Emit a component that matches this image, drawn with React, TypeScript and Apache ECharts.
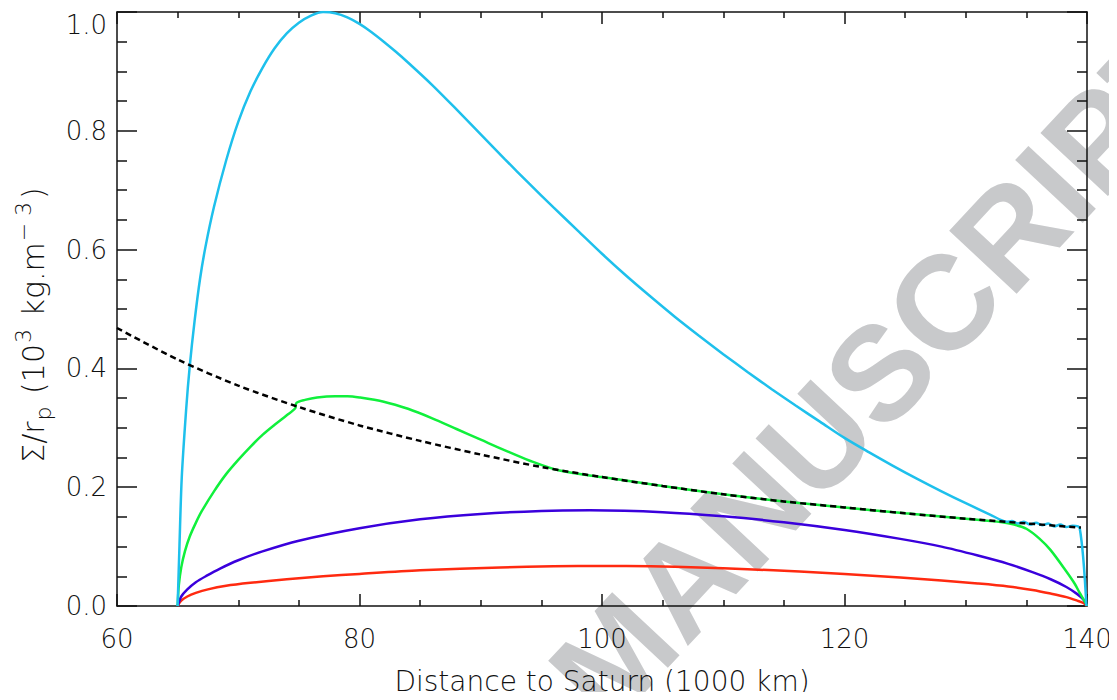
import React, { useEffect, useRef } from "react";
import * as echarts from "echarts";

// Distance to Saturn (1000 km) / Σ/r_p (10^3 kg.m^-3)
const cyanX = [65, 65.15, 65.34, 65.7, 66, 66.4, 66.85, 67.3, 68, 69, 70, 71, 72, 73, 74, 75, 76, 77, 78, 79, 80, 81, 82, 83, 84, 86, 88, 90, 92, 94, 96, 98, 100, 102, 104, 106, 108, 110, 112, 114, 116, 118, 120, 122, 124, 126, 128, 130, 132, 133.4, 133.8, 134.3, 134.8, 135.3, 135.8, 136.3, 136.8, 137.3, 137.8, 138.3, 138.8, 139.4, 139.95];
const cyanY = [0, 0.1, 0.216, 0.33, 0.404, 0.48, 0.551, 0.605, 0.672, 0.75, 0.815, 0.866, 0.906, 0.939, 0.964, 0.982, 0.994, 1.0, 0.998, 0.991, 0.98, 0.966, 0.95, 0.933, 0.915, 0.877, 0.836, 0.794, 0.752, 0.711, 0.671, 0.632, 0.593, 0.556, 0.521, 0.487, 0.455, 0.424, 0.394, 0.365, 0.337, 0.31, 0.283, 0.259, 0.236, 0.214, 0.193, 0.173, 0.154, 0.142, 0.143, 0.139, 0.142, 0.137, 0.14, 0.136, 0.139, 0.134, 0.137, 0.133, 0.135, 0.131, 0];

const dashX = [60, 65, 70, 75, 80, 85, 90, 95, 100, 105, 110, 115, 120, 125, 130, 135, 139.5];
const dashY = [0.468, 0.415, 0.371, 0.335, 0.304, 0.278, 0.255, 0.234, 0.217, 0.202, 0.188, 0.176, 0.166, 0.156, 0.147, 0.139, 0.132];

const greenX = [65, 65.1, 65.3, 65.6, 66, 66.5, 67, 68, 69, 70, 71, 72, 73, 74, 74.7, 74.8, 75.5, 76.5, 78, 79, 80, 82, 84, 86, 88, 90, 92, 94, 96.5, 100, 105, 110, 115, 120, 125, 130, 133, 134, 135, 136.1, 137, 138.3, 139, 139.4, 139.8, 140];
const greenY = [0, 0.035, 0.065, 0.092, 0.117, 0.14, 0.16, 0.193, 0.222, 0.246, 0.268, 0.288, 0.305, 0.321, 0.333, 0.342, 0.347, 0.351, 0.353, 0.353, 0.351, 0.344, 0.332, 0.316, 0.298, 0.28, 0.262, 0.245, 0.228, 0.217, 0.202, 0.188, 0.176, 0.166, 0.156, 0.147, 0.141, 0.137, 0.13, 0.113, 0.094, 0.058, 0.037, 0.022, 0.008, 0];

const blueX = [65, 65.3, 65.8, 66.5, 67.4, 68.5, 70, 72, 75, 80, 85, 90, 95, 99, 105, 110, 115, 120, 124.6, 128, 131, 133.5, 135.5, 137, 138.3, 139.2, 139.7, 140];
const blueY = [0, 0.016, 0.028, 0.04, 0.051, 0.063, 0.077, 0.092, 0.11, 0.131, 0.146, 0.155, 0.16, 0.161, 0.158, 0.151, 0.141, 0.128, 0.113, 0.1, 0.085, 0.071, 0.057, 0.045, 0.032, 0.02, 0.011, 0];

const redX = [65, 65.3, 65.8, 66.5, 67.5, 69, 71, 74, 77, 80, 85, 91.6, 96, 100, 104, 108, 112, 116.3, 120, 124.6, 128, 131, 133.5, 135.5, 137, 138.3, 139.2, 139.7, 140];
const redY = [0, 0.009, 0.016, 0.022, 0.028, 0.034, 0.039, 0.045, 0.05, 0.054, 0.06, 0.065, 0.067, 0.0675, 0.067, 0.065, 0.062, 0.058, 0.054, 0.048, 0.043, 0.038, 0.033, 0.027, 0.021, 0.015, 0.009, 0.005, 0];

const xTicks = [60, 80, 100, 120, 140];
const yTicks = [0, 0.2, 0.4, 0.6, 0.8, 1.0];

const pair = (xs: number[], ys: number[]) => xs.map((x, i) => [x, ys[i]]);

const FONT = "DejaVu Sans";

export default function App() {
  const ref = useRef<HTMLDivElement>(null);
  useEffect(() => {
    if (!ref.current) return;
    const chart = echarts.init(ref.current, undefined, { renderer: "svg" });
    const axisLine = { show: true, onZero: false, lineStyle: { color: "#111", width: 1.5 } };
    const xBase = {
      type: "value" as const,
      min: xTicks[0],
      max: xTicks[xTicks.length - 1],
      interval: 20,
      axisLine,
      splitLine: { show: false },
      axisTick: { show: true, inside: true, length: 12, lineStyle: { color: "#111", width: 1.5 } },
      minorTick: { show: true, splitNumber: 4, length: 6, lineStyle: { color: "#111", width: 1.5 } },
    };
    const yBase = {
      type: "value" as const,
      min: yTicks[0],
      max: yTicks[yTicks.length - 1],
      interval: 0.2,
      axisLine,
      splitLine: { show: false },
      axisTick: { show: true, inside: true, length: 20, lineStyle: { color: "#111", width: 1.5 } },
      minorTick: { show: true, splitNumber: 4, length: 10, lineStyle: { color: "#111", width: 1.5 } },
    };
    const line = (name: string, data: number[][], color: string, z = 2) => ({
      name,
      type: "line",
      data,
      showSymbol: false,
      smooth: 0.3,
      lineStyle: { color, width: 2.5 },
      z,
    });
    chart.setOption({
      animation: false,
      grid: { left: 117, right: 30, top: 12, bottom: 91, containLabel: false },
      xAxis: [
        {
          ...xBase,
          position: "bottom",
          axisLabel: { show: true, margin: 20, color: "#111", fontSize: 26, fontFamily: FONT, fontWeight: 300 },
          name: "Distance to Saturn (1000 km)",
          nameLocation: "middle",
          nameGap: 61,
          nameTextStyle: { color: "#111", fontSize: 28, fontFamily: FONT, fontWeight: 300 },
        },
        { ...xBase, position: "top", axisLabel: { show: false } },
      ],
      yAxis: [
        {
          ...yBase,
          position: "left",
          axisLabel: {
            show: true,
            margin: 10,
            color: "#111",
            fontSize: 26,
            fontFamily: FONT,
            fontWeight: 300,
            verticalAlignMaxLabel: "top",
            formatter: (v: number) => v.toFixed(1),
          },
        },
        { ...yBase, position: "right", axisLabel: { show: false } },
      ],
      graphic: [
        {
          type: "text",
          x: 880,
          y: 372,
          rotation: (47 * Math.PI) / 180,
          z: -10,
          silent: true,
          style: {
            text: "MANUSCRIPT",
            fontSize: 134,
            fontWeight: "bold",
            fontFamily: "Liberation Sans",
            fill: "#c8c9cb",
            align: "center",
            verticalAlign: "middle",
          },
        },
        {
          type: "text",
          x: 33,
          y: 325,
          rotation: Math.PI / 2,
          style: {
            text: "{n|Σ/r}{sub|p}{n| (10}{sup|3}{n| kg.m}{sup|− 3}{n|)}",
            align: "center",
            verticalAlign: "middle",
            fill: "#111",
            rich: {
              n: { fontSize: 30, fontFamily: FONT, fontWeight: 300, lineHeight: 42, verticalAlign: "middle", fill: "#111" },
              sub: { fontSize: 22, fontFamily: FONT, fontWeight: 300, lineHeight: 22, verticalAlign: "bottom", fill: "#111", padding: [0, 3, 0, 1] },
              sup: { fontSize: 22, fontFamily: FONT, fontWeight: 300, lineHeight: 22, verticalAlign: "top", fill: "#111", padding: [0, 3, 0, 1] },
            },
          },
        },
      ],
      series: [
        line("red", pair(redX, redY), "#ff2a10"),
        line("blue", pair(blueX, blueY), "#3a00dc"),
        line("green", pair(greenX, greenY), "#10f03c"),
        line("cyan", pair(cyanX, cyanY), "#1ec0ec", 3),
        {
          ...line("dashed", pair(dashX, dashY), "#000", 4),
          lineStyle: { color: "#000", width: 2.5, type: [6, 4] },
        },
      ],
    });
    return () => chart.dispose();
  }, []);
  return <div ref={ref} style={{ width: 1117, height: 700, margin: -8 }} />;
}
